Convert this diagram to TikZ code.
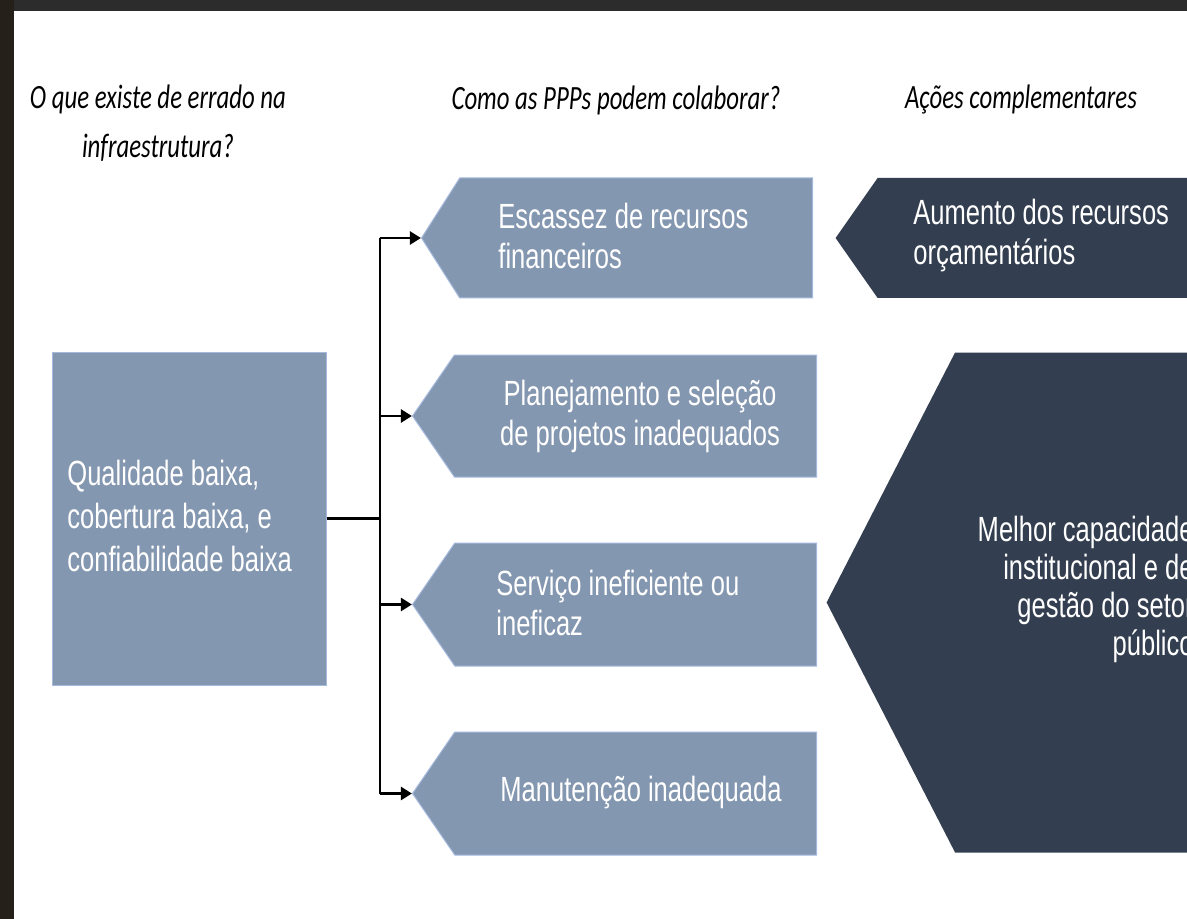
\documentclass[tikz,border=0pt]{standalone}
\usepackage{fontspec}
\setmainfont[FakeStretch=0.73]{Liberation Sans}
\newfontfamily\headfont[FakeStretch=0.73]{Carlito}
\definecolor{customgrayblue}{RGB}{132,151,176}
\definecolor{customedgeblue}{RGB}{166,186,222}
\definecolor{myDarkSlate}{RGB}{51,63,80}
\definecolor{myFrameDark}{RGB}{38,32,26}
\definecolor{myBandDark}{RGB}{44,44,44}
\usetikzlibrary{arrows.meta,positioning,shapes.symbols}

\begin{document}
\begin{tikzpicture}[x=0.5pt, y=-0.5pt,
    problem/.style={signal, signal to=west, fill=customgrayblue, draw=customedgeblue, line width=0.5pt, inner sep=0pt, anchor=east},
    action/.style={signal, signal to=west, fill=myDarkSlate, inner sep=0pt, anchor=east},
    body/.style={text=white, align=left, inner sep=0pt, font=\fontsize{17.5pt}{20pt}\selectfont},
    header/.style={text=black, align=center, inner sep=0pt, font=\headfont\itshape\fontsize{17pt}{24.5pt}\selectfont},
    link/.style={line width=1.3pt, black},
    arrowlink/.style={link, -{Triangle[length=5.5pt, width=6.5pt]}}]
    \useasboundingbox (0,0) rectangle (1187,919);
    \fill[white] (0,0) rectangle (1187,919);
    \fill[myBandDark] (0,0) rectangle (1187,11);
    \fill[myFrameDark] (0,0) rectangle (14,919);

    % column headers
    \node[header] (hwrong) at (158,123) {O que existe de errado na\\infraestrutura?};
    \node[header] (hppp) at (616,100) {Como as PPPs podem colaborar?};
    \node[header] (haction) at (1021,100) {Ações complementares};

    \node[rectangle, fill=customgrayblue, draw=customedgeblue, line width=0.5pt, minimum width=137pt, minimum height=166.5pt] (quality) at (189,518.5) {};
    \node[body, anchor=west, font=\fontsize{17.5pt}{21.5pt}\selectfont] (qualitytext) at (67,516) {Qualidade baixa,\\cobertura baixa, e\\confiabilidade baixa};

    % what the PPPs address
    \node[problem, minimum width=195.5pt, minimum height=60pt, signal pointer angle=115] (scarcity) at (813,238) {};
    \node[problem, minimum width=202pt, minimum height=61pt, signal pointer angle=111] (planning) at (817,416) {};
    \node[problem, minimum width=202pt, minimum height=61.5pt, signal pointer angle=111] (service) at (817,604.5) {};
    \node[problem, minimum width=202pt, minimum height=61.5pt, signal pointer angle=111] (maintenance) at (817,793.5) {};

    \node[body, anchor=west] (scarcitytext) at (498,236) {Escassez de recursos\\financeiros};
    \node[body, align=center] (planningtext) at (640,416) {Planejamento e seleção\\de projetos inadequados};
    \node[body, anchor=west] (servicetext) at (496,603) {Serviço ineficiente ou\\ineficaz};
    \node[body] (maintenancetext) at (641,793) {Manutenção inadequada};

    % complementary actions
    \node[action, minimum width=182pt, minimum height=60pt, signal pointer angle=110] (budget) at (1200,238) {};
    \node[action, minimum width=186.5pt, minimum height=250pt, signal pointer angle=125.6] (capacity) at (1200,602.5) {};

    \node[body, anchor=west] (budgettext) at (913,236) {Aumento dos recursos\\orçamentários};
    \node[body, align=right, anchor=east, font=\fontsize{17.5pt}{19pt}\selectfont] (capacitytext) at (1194,589) {Melhor capacidade\\institucional e de\\gestão do setor\\público};

    \coordinate (trunk) at (380,518.5);
    \draw[link] (quality.east) -- (trunk);
    \draw[link] (trunk |- scarcity.west) -- (trunk |- maintenance.west);
    \draw[arrowlink] (trunk |- scarcity.west) -- (scarcity.west);
    \draw[arrowlink] (trunk |- planning.west) -- (planning.west);
    \draw[arrowlink] (trunk |- service.west) -- (service.west);
    \draw[arrowlink] (trunk |- maintenance.west) -- (maintenance.west);
\end{tikzpicture}
\end{document}
